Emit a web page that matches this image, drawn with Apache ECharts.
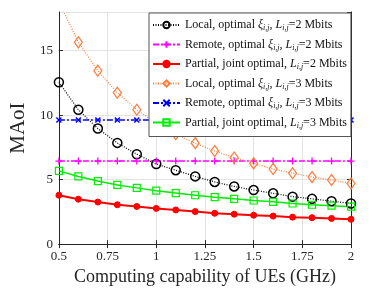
<!DOCTYPE html>
<html><head><meta charset="utf-8">
<script src="https://cdn.jsdelivr.net/npm/echarts@6/dist/echarts.min.js"></script>
<style>html,body{margin:0;padding:0;background:#fff}#c{width:388px;height:291px}</style>
</head><body><div id="c"></div>
<script>
const xVals = [0.5,0.6,0.7,0.8,0.9,1.0,1.1,1.2,1.3,1.4,1.5,1.6,1.7,1.8,1.9,2.0];
const local2 = [12.55,10.42,8.96,7.85,6.97,6.21,5.73,5.25,4.82,4.47,4.19,3.94,3.68,3.51,3.33,3.15];
const remote2 = [6.44,6.44,6.44,6.44,6.44,6.44,6.44,6.44,6.44,6.44,6.44,6.44,6.44,6.44,6.44,6.44];
const partial2 = [3.79,3.48,3.26,3.05,2.92,2.77,2.65,2.52,2.39,2.32,2.24,2.17,2.09,2.05,1.99,1.92];
const local3 = [18.8,15.65,13.45,11.74,10.42,9.4,8.53,7.83,7.22,6.71,6.26,5.83,5.5,5.2,4.97,4.7];
const remote3 = [9.62,9.62,9.62,9.62,9.62,9.62,9.62,9.62,9.62,9.62,9.62,9.62,9.62,9.62,9.62,9.62];
const partial3 = [5.68,5.25,4.89,4.59,4.36,4.14,3.96,3.79,3.64,3.51,3.38,3.28,3.15,3.05,2.98,2.9];
const seriesNames = [
  'Local, optimal ξi,j, Li,j=2 Mbits',
  'Remote, optimal ξi,j, Li,j=2 Mbits',
  'Partial, joint optimal, Li,j=2 Mbits',
  'Local, optimal ξi,j, Li,j=3 Mbits',
  'Remote, optimal ξi,j, Li,j=3 Mbits',
  'Partial, joint optimal, Li,j=3 Mbits'
];
const legendRich = [
  '{n|Local, optimal }{it|ξ}{s|i,j}{n|, }{it|L}{s|i,j}{n|=2 Mbits}',
  '{n|Remote, optimal }{it|ξ}{s|i,j}{n|, }{it|L}{s|i,j}{n|=2 Mbits}',
  '{n|Partial, joint optimal, }{it|L}{s|i,j}{n|=2 Mbits}',
  '{n|Local, optimal }{it|ξ}{s|i,j}{n|, }{it|L}{s|i,j}{n|=3 Mbits}',
  '{n|Remote, optimal }{it|ξ}{s|i,j}{n|, }{it|L}{s|i,j}{n|=3 Mbits}',
  '{n|Partial, joint optimal, }{it|L}{s|i,j}{n|=3 Mbits}'
];
const pair = a => xVals.map((x,i)=>[x,a[i]]);
const FONT = 'Liberation Serif';
const plus = 'path://M0,5L10,5M5,0L5,10';
const cross = 'path://M0,0L10,10M10,0L0,10';
const dashDot = [6,2,2,2];
const dotted = [1,1.5];

const chart = echarts.init(document.getElementById('c'), null, {renderer:'canvas'});
const ax = {
  min:0.5, max:2, interval:0.25,
  axisLine:{lineStyle:{color:'#262626',width:1}},
  axisTick:{inside:true,length:4,lineStyle:{color:'#262626'}},
  splitLine:{show:false}
};
chart.setOption({
  animation:false,
  grid:{left:51,right:37,top:12,bottom:42},
  legend:{
    orient:'vertical', left:149, top:13,
    padding:[6,4,7,3], itemGap:6.5, itemWidth:27, itemHeight:8,
    backgroundColor:'#fff', borderColor:'#555', borderWidth:1,
    data: seriesNames,
    formatter: name => legendRich[seriesNames.indexOf(name)],
    textStyle:{
      fontFamily:FONT, fontSize:12, color:'#111',
      rich:{
        n:{fontFamily:FONT,fontSize:12,color:'#111',lineHeight:14},
        it:{fontFamily:FONT,fontSize:12,fontStyle:'italic',color:'#111',lineHeight:14},
        s:{fontFamily:FONT,fontSize:8,fontStyle:'italic',color:'#111',padding:[6,0,0,0]}
      }
    }
  },
  xAxis:[
    Object.assign({}, ax, {
      type:'value', position:'bottom',
      name:'Computing capability of UEs (GHz)', nameLocation:'middle', nameGap:20,
      nameTextStyle:{fontFamily:FONT,fontSize:18,color:'#262626'},
      axisLabel:{fontFamily:FONT,fontSize:13,color:'#262626',margin:6,
        formatter:v=>String(+v.toFixed(2))},
      splitLine:{show:true,lineStyle:{color:'#e3e3e3',width:1}}
    }),
    Object.assign({}, ax, {type:'value',position:'top',axisLabel:{show:false}})
  ],
  yAxis:[
    {type:'value',min:0,max:18,interval:5,position:'left',
      name:'MAoI', nameLocation:'middle', nameGap:22,
      nameTextStyle:{fontFamily:FONT,fontSize:21,color:'#262626'},
      axisLine:{show:true,lineStyle:{color:'#262626'}},
      axisTick:{show:true,inside:true,length:4,lineStyle:{color:'#262626'}},
      axisLabel:{fontFamily:FONT,fontSize:13,color:'#262626',margin:6,showMaxLabel:false},
      splitLine:{show:true,lineStyle:{color:'#e3e3e3',width:1}}},
    {type:'value',min:0,max:18,interval:5,position:'right',
      axisLine:{show:true,lineStyle:{color:'#262626'}},
      axisTick:{show:true,inside:true,length:4,lineStyle:{color:'#262626'}},
      axisLabel:{show:false},splitLine:{show:false}}
  ],
  series:[
    {name:seriesNames[0],type:'line',data:pair(local2),symbol:'circle',symbolSize:9,
      lineStyle:{color:'#000',width:1.2,type:dotted},
      itemStyle:{color:'rgba(0,0,0,0)',borderColor:'#000',borderWidth:1.5},z:3},
    {name:seriesNames[1],type:'line',data:pair(remote2),symbol:plus,symbolSize:7,
      lineStyle:{color:'#ff00ff',width:1.5,type:dashDot},
      itemStyle:{color:'rgba(0,0,0,0)',borderColor:'#ff00ff',borderWidth:1.3},z:3},
    {name:seriesNames[2],type:'line',data:pair(partial2),symbol:'circle',symbolSize:6,
      lineStyle:{color:'#ff0000',width:2},
      itemStyle:{color:'#ff0000',borderColor:'#ff0000',borderWidth:1},z:3},
    {name:seriesNames[3],type:'line',data:pair(local3),symbol:'diamond',symbolSize:[8,11],
      lineStyle:{color:'#ff7f40',width:1.2,type:dotted},
      itemStyle:{color:'rgba(0,0,0,0)',borderColor:'#ff7f40',borderWidth:1.3},z:3},
    {name:seriesNames[4],type:'line',data:pair(remote3),symbol:cross,symbolSize:5,
      lineStyle:{color:'#0000ff',width:1.5,type:dashDot},
      itemStyle:{color:'rgba(0,0,0,0)',borderColor:'#0000ff',borderWidth:1.5},z:3},
    {name:seriesNames[5],type:'line',data:pair(partial3),symbol:'rect',symbolSize:7,
      lineStyle:{color:'#00ee00',width:1.5},
      itemStyle:{color:'rgba(0,0,0,0)',borderColor:'#00ee00',borderWidth:1.2},z:3}
  ]
});
</script></body></html>
